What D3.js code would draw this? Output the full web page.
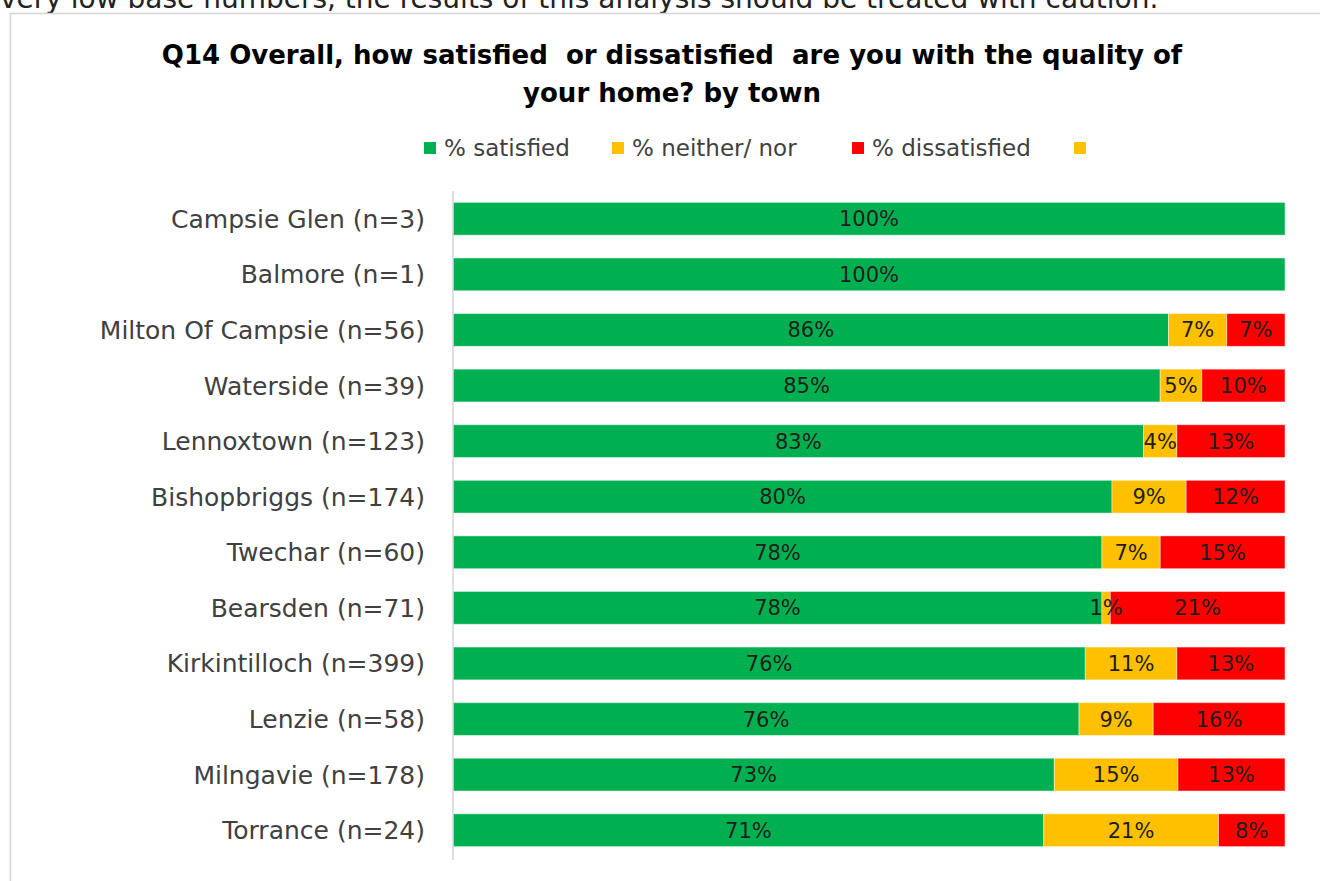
<!DOCTYPE html>
<html>
<head>
<meta charset="utf-8">
<script src="https://cdn.jsdelivr.net/npm/d3@7"></script>
<style>
  html, body { margin: 0; padding: 0; background: #fff; }
  svg { display: block; }
</style>
</head>
<body>
<svg id="chart" width="1320" height="881"></svg>
<script>
// Q14 satisfaction with quality of home, by town (100% stacked bars)
const towns = [
  "Campsie Glen (n=3)", "Balmore (n=1)", "Milton Of Campsie (n=56)", "Waterside (n=39)",
  "Lennoxtown (n=123)", "Bishopbriggs (n=174)", "Twechar (n=60)", "Bearsden (n=71)",
  "Kirkintilloch (n=399)", "Lenzie (n=58)", "Milngavie (n=178)", "Torrance (n=24)"
];
const satisfied    = [100, 100, 86, 85, 83, 80, 78, 78, 76, 76, 73, 71];
const neither      = [0, 0, 7, 5, 4, 9, 7, 1, 11, 9, 15, 21];
const dissatisfied = [0, 0, 7, 10, 13, 12, 15, 21, 13, 16, 13, 8];

const seriesNames  = ["% satisfied", "% neither/ nor", "% dissatisfied", ""];
const seriesColors = ["#00B050", "#FFC000", "#FF0000", "#FFC000"];

const titleLines = [
  "Q14 Overall, how satisfied  or dissatisfied  are you with the quality of",
  "your home? by town"
];
const noteText = "very low base numbers, the results of this analysis should be treated with caution.";

const svg = d3.select("#chart");
const FONT = "'DejaVu Sans', sans-serif";

// note line running above the chart frame
svg.append("text")
  .attr("x", 0).attr("y", 8)
  .attr("font-family", FONT).attr("font-size", 28)
  .attr("fill", "#222")
  .text(noteText);

// chart frame
svg.append("rect")
  .attr("x", 10.5).attr("y", 13.5)
  .attr("width", 1330).attr("height", 900)
  .attr("fill", "#fff")
  .attr("stroke", "#d4d4d4").attr("stroke-width", 1.5);

// title
svg.append("text")
  .attr("text-anchor", "middle")
  .attr("font-family", FONT).attr("font-weight", "bold")
  .attr("font-size", 26).attr("fill", "#000")
  .style("white-space", "pre")
  .selectAll("tspan").data(titleLines).join("tspan")
  .attr("x", 672)
  .attr("y", (d, i) => 64 + i * 38)
  .text(d => d);

// legend
const legendX = [424, 612, 852, 1074];
const legend = svg.append("g").selectAll("g").data(seriesNames).join("g")
  .attr("transform", (d, i) => `translate(${legendX[i]},148)`);
legend.append("rect")
  .attr("x", 0).attr("y", -6).attr("width", 12).attr("height", 12)
  .attr("fill", (d, i) => seriesColors[i]);
legend.append("text")
  .attr("x", 20).attr("y", 8)
  .attr("font-family", FONT).attr("font-size", 23)
  .attr("fill", "#404040")
  .text(d => d);

// scales
const x = d3.scaleLinear().domain([0, 100]).range([453, 1285]);
const y = d3.scaleBand().domain(towns).range([191, 858])
  .paddingInner(0.41).paddingOuter(0.205);

// rows normalised to 100%
const rows = towns.map((t, i) => {
  const vals = [satisfied[i], neither[i], dissatisfied[i]];
  const total = d3.sum(vals);
  let cum = 0;
  return vals.map((v, k) => {
    const seg = { town: t, value: v, k, x0: cum / total * 100, x1: (cum + v) / total * 100 };
    cum += v;
    return seg;
  });
});

const segs = rows.flat().filter(d => d.value > 0);

svg.append("g").selectAll("rect").data(segs).join("rect")
  .attr("x", d => x(d.x0))
  .attr("y", d => y(d.town))
  .attr("width", d => x(d.x1) - x(d.x0))
  .attr("height", y.bandwidth())
  .attr("fill", d => seriesColors[d.k])
  .attr("stroke", "rgba(255,255,255,0.45)").attr("stroke-width", 1);

svg.append("g").selectAll("text").data(segs).join("text")
  .attr("x", d => (x(d.x0) + x(d.x1)) / 2)
  .attr("y", d => y(d.town) + y.bandwidth() / 2 + 7.5)
  .attr("text-anchor", "middle")
  .attr("font-family", FONT).attr("font-size", 21)
  .attr("fill", "#1e1e1e")
  .text(d => d.value + "%");

// category axis
const yAxis = svg.append("g")
  .attr("transform", `translate(${x(0)},0)`)
  .call(d3.axisLeft(y).tickSize(0).tickPadding(28));
yAxis.select(".domain").attr("stroke", "#d4d4d4").attr("stroke-width", 1.5)
  .attr("d", `M0,191V860`);
yAxis.selectAll(".tick text")
  .attr("font-family", FONT).attr("font-size", 25)
  .attr("fill", "#404040")
  .attr("dy", "0.36em");
</script>
</body>
</html>
